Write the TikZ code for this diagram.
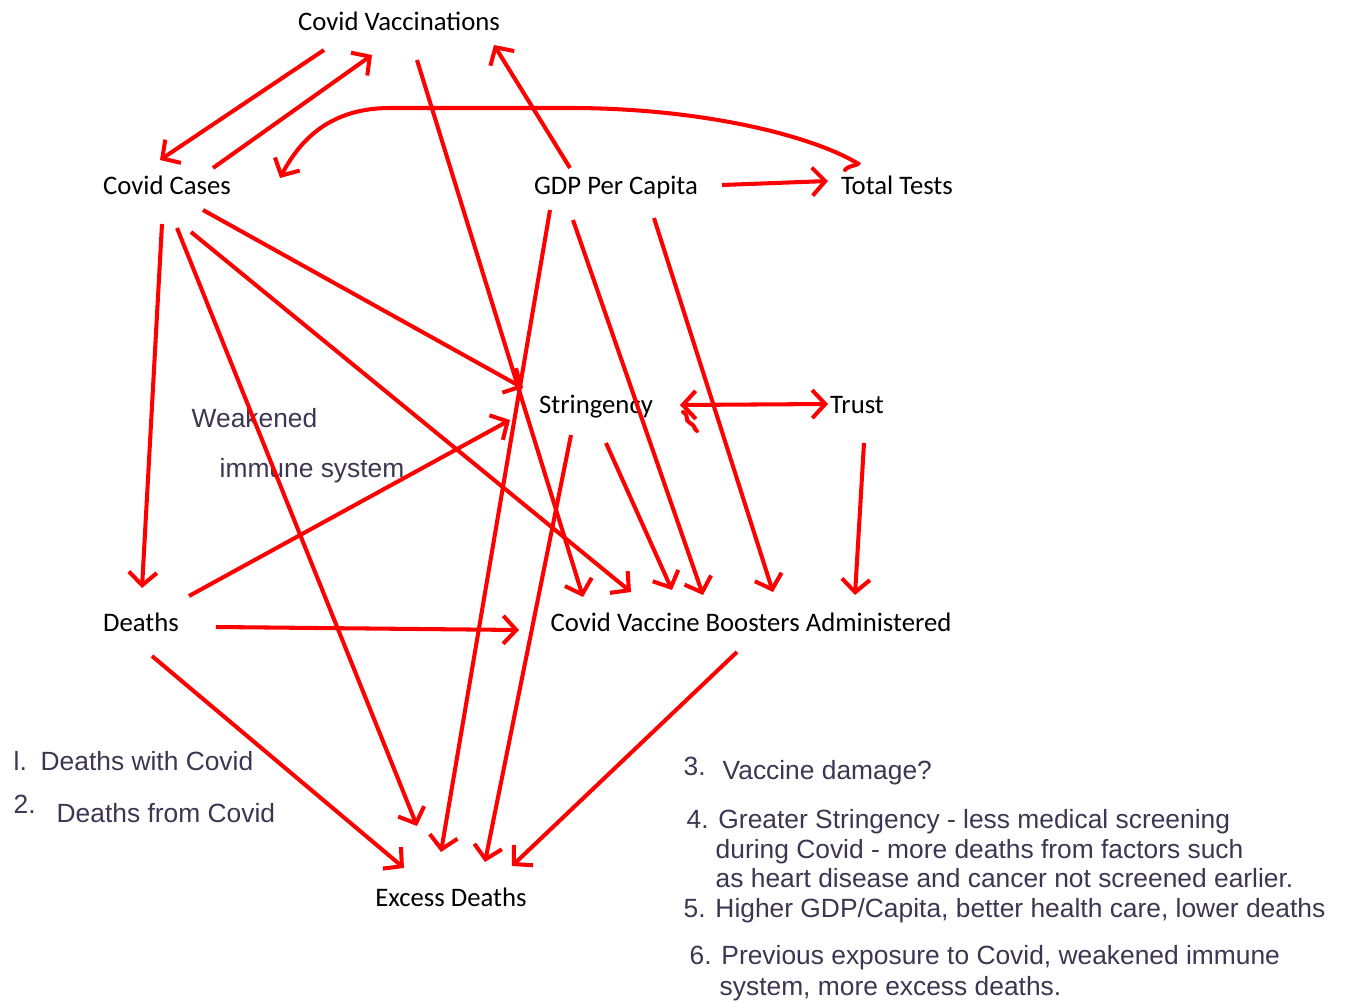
\documentclass[tikz,border=0pt]{standalone}
\usepackage{fontspec}
\setmainfont{Carlito}
\newfontfamily\notefont{Liberation Sans}
\usetikzlibrary{arrows.meta,calc}
\definecolor{notegray}{HTML}{3D3551}

\begin{document}
\begin{tikzpicture}[
  x=0.01cm, y=-0.01cm,
  var/.style={font=\fontsize{7.6}{9}\selectfont, inner sep=0pt, text height=4.8pt, text depth=0pt},
  note/.style={font=\notefont\fontsize{7.5}{9}\selectfont, text=notegray, inner sep=0pt, anchor=base west},
  link/.style={draw=red, line width=1.15pt, -{Straight Barb[length=1.3mm,width=2.8mm]}},
  ]
  \tikzset{%
    twolink/.style={link, {Straight Barb[length=1.3mm,width=2.8mm]}-{Straight Barb[length=1.3mm,width=2.8mm]}},
    scribble/.style={draw=red, line width=1.15pt, line cap=round},
  }
  \useasboundingbox (0,0) rectangle (1350,1003);
  %Nodes
  \node[var](vacc) at (399,22) {Covid Vaccinations};
  \node[var](cases) at (167,186) {Covid Cases};
  \node[var](gdp) at (616,186) {GDP Per Capita};
  \node[var](tests) at (897,186) {Total Tests};
  \node[var](string) at (596,405) {Stringency};
  \node[var](trust) at (857,405) {Trust};
  \node[var](deaths) at (141,623) {Deaths};
  \node[var](boost) at (751,623) {Covid Vaccine Boosters Administered};
  \node[var](excess) at (451,898) {Excess Deaths};
  %Notes
  \node[note](weak) at (191,427) {Weakened};
  \node[note](immune) at (219,477) {immune system};
  \node[note](n1) at (13,770) {l.};
  \node[note](withcovid) at (40,770) {Deaths with Covid};
  \node[note](n2) at (13,814) {2.};
  \node[note](fromcovid) at (56,822) {Deaths from Covid};
  \node[note](n3) at (683,775) {3.};
  \node[note](damage) at (722,779) {Vaccine damage?};
  \node[note](screen) at (686,828) {4. Greater Stringency - less medical screening};
  \node[note](screenb) at (715,858) {during Covid - more deaths from factors such};
  \node[note](screenc) at (715,887) {as heart disease and cancer not screened earlier.};
  \node[note](health) at (683,917) {5. Higher GDP/Capita, better health care, lower deaths};
  \node[note](exposure) at (689,965) {6. Previous exposure to Covid, weakened immune};
  \node[note](exposureb) at (719,995) {system, more excess deaths.};
  %Arrows
  \draw[link] ($(vacc)+(-75,28)$) -- ($(cases)+(-7,-26)$);
  \draw[link] ($(cases)+(46,-18)$) -- ($(vacc)+(-27,33)$);
  \draw[link] ($(vacc)+(18,38)$) -- ($(boost)+(-168,-26)$);
  \draw[link] ($(gdp)+(-46,-18)$) -- ($(vacc)+(95,23)$);
  \draw[link] ($(gdp)+(106,-1)$) -- ($(tests)+(-69,-5)$);
  \draw[link] ($(tests)+(-40,-23)$) .. controls (810,135) and (700,108) .. (570,108)
    -- (390,108) .. controls (330,108) and (300,140) .. ($(cases)+(113,-8)$);
  \draw[scribble] (845,170) to[out=60,in=-20] ($(tests)+(-40,-23)$);
  \draw[link] ($(cases)+(-5,38)$) -- ($(deaths)+(1,-35)$);
  \draw[link] ($(cases)+(10,42)$) -- ($(excess)+(-34,-72)$);
  \draw[link] ($(cases)+(24,46)$) -- ($(boost)+(-120,-31)$);
  \draw[link] ($(cases)+(36,24)$) -- ($(string)+(-73,-17)$);
  \draw[link] ($(gdp)+(-66,24)$) -- ($(excess)+(-10,-46)$);
  \draw[link] ($(gdp)+(-43,34)$) -- ($(boost)+(-48,-28)$);
  \draw[link] ($(gdp)+(38,32)$) -- ($(boost)+(22,-31)$);
  \draw[twolink] ($(string)+(84,0)$) -- ($(trust)+(-29,-1)$);
  \draw[scribble] (683,412) .. controls (690,416) and (684,420) .. (690,423)
    .. controls (696,426) and (693,428) .. (697,431);
  \draw[link] ($(string)+(-25,30)$) -- ($(excess)+(34,-36)$);
  \draw[link] ($(string)+(10,38)$) -- ($(boost)+(-79,-33)$);
  \draw[link] ($(trust)+(7,38)$) -- ($(boost)+(104,-28)$);
  \draw[link] ($(deaths)+(48,-27)$) -- ($(string)+(-86,15)$);
  \draw[link] ($(deaths)+(75,4)$) -- ($(boost)+(-232,7)$);
  \draw[link] ($(deaths)+(11,33)$) -- ($(excess)+(-47,-30)$);
  \draw[link] ($(boost)+(-14,29)$) -- ($(excess)+(61,-32)$);
\end{tikzpicture}
\end{document}
